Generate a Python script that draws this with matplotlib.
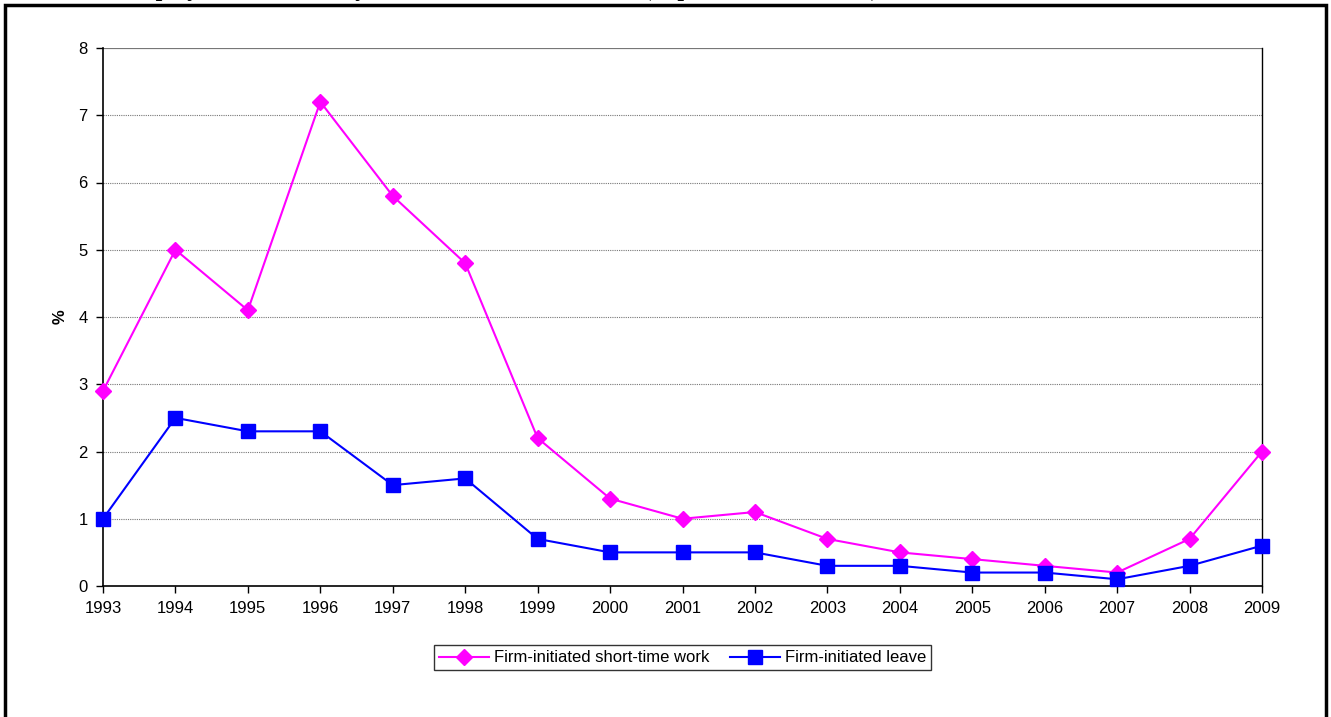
import matplotlib as mpl
import matplotlib.pyplot as plt
from matplotlib.patches import Rectangle

mpl.rcParams['font.family'] = ['Liberation Sans', 'DejaVu Sans']

years = [1993, 1994, 1995, 1996, 1997, 1998, 1999, 2000, 2001,
         2002, 2003, 2004, 2005, 2006, 2007, 2008, 2009]
short_time_work = [2.9, 5.0, 4.1, 7.2, 5.8, 4.8, 2.2, 1.3, 1.0,
                   1.1, 0.7, 0.5, 0.4, 0.3, 0.2, 0.7, 2.0]
leave = [1.0, 2.5, 2.3, 2.3, 1.5, 1.6, 0.7, 0.5, 0.5,
         0.5, 0.3, 0.3, 0.2, 0.2, 0.1, 0.3, 0.6]
y_ticks = [0, 1, 2, 3, 4, 5, 6, 7, 8]

W, H = 1331, 717
fig = plt.figure(figsize=(W / 100, H / 100), dpi=100)

# outer frame of the chart object (bottom edge runs off the picture)
fig.add_artist(Rectangle((5 / W, -0.05), 1321 / W, (H - 5) / H + 0.05,
                         transform=fig.transFigure, fill=False,
                         edgecolor='black', linewidth=2.5))

# heading above the chart, cropped by the top edge as in the source
fig.text(120 / W, 1 + 4 / H,
         'Employment affected by short-time work and leave (in percent, 1993, 2009)',
         fontsize=17, fontweight='bold', family='Liberation Serif',
         ha='left', va='baseline')

ax = fig.add_axes([103 / W, 1 - 586 / H, (1262 - 103) / W, (586 - 48) / H])

ax.plot(years, short_time_work, color='#FF00FF', marker='D', markersize=8.5,
        linewidth=1.5, label='Firm-initiated short-time work', clip_on=False, zorder=3)
ax.plot(years, leave, color='#0000FF', marker='s', markersize=9.5,
        linewidth=1.5, label='Firm-initiated leave', clip_on=False, zorder=3)

ax.set_xlim(years[0], years[-1])
ax.set_ylim(0, 8)
ax.set_xticks(years)
ax.set_xticklabels([str(y) for y in years])
ax.set_yticks(y_ticks)

for v in y_ticks[1:]:
    ax.axhline(v, color='#777777', linewidth=0.8 if v < 8 else 1.6,
               linestyle=(0, (1, 1)) if v < 8 else '-', zorder=1)

ax.tick_params(axis='both', labelsize=12, length=5, width=1, direction='out', pad=6)
ax.spines['top'].set_visible(False)
ax.spines['right'].set_linewidth(1)
ax.spines['left'].set_linewidth(1.2)
ax.spines['bottom'].set_linewidth(1.2)

ax.set_ylabel('%', fontsize=12, fontweight='bold', labelpad=8)

leg = ax.legend(loc='upper center', bbox_to_anchor=(0.5, -0.095), ncol=2,
                fontsize=12, frameon=True, fancybox=False, edgecolor='black',
                borderpad=0.3, handlelength=3.0, columnspacing=1.2, handletextpad=0.3)
leg.get_frame().set_linewidth(1)

fig.savefig('out.png', dpi=100)
